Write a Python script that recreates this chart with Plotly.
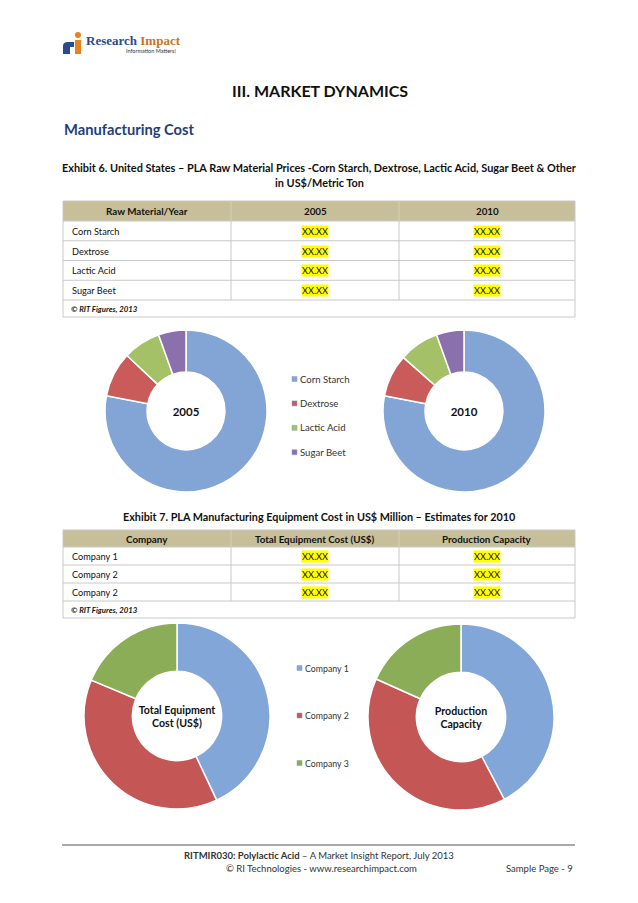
import plotly.graph_objects as go

# page body has an 8px margin: draw in page pixels, shifted by OFF
OFF = 8
W, H = 622, 887
F = "Lato"

# ---------------- data ----------------
materials = ["Corn Starch", "Dextrose", "Lactic Acid", "Sugar Beet"]
table1_header = ["Raw Material/Year", "2005", "2010"]
price_2005 = ["XX.XX", "XX.XX", "XX.XX", "XX.XX"]
price_2010 = ["XX.XX", "XX.XX", "XX.XX", "XX.XX"]
share_2005 = [78.0, 9.0, 7.5, 5.5]
share_2010 = [78.0, 8.5, 8.0, 5.5]
material_colors = ["#82a5d6", "#c95c5a", "#a5c168", "#8a71ad"]

companies_table = ["Company 1", "Company 2", "Company 2"]
table2_header = ["Company", "Total Equipment Cost (US$)", "Production Capacity"]
equip_cost_txt = ["XX.XX", "XX.XX", "XX.XX"]
prod_cap_txt = ["XX.XX", "XX.XX", "XX.XX"]
companies = ["Company 1", "Company 2", "Company 3"]
equip_cost_share = [43.0, 38.3, 18.7]
prod_cap_share = [42.3, 39.4, 18.3]
company_colors = ["#82a6d8", "#c45755", "#8bad57"]

footnote = "© RIT Figures, 2013"


def X(px):
    return (px - OFF) / W


def Y(py):
    return 1 - (py - OFF) / H


fig = go.Figure()
shapes = []
annotations = []


def text(x, y, s, size, color="#111", bold=False, xanchor="center", family=F, bg=None, italic=False):
    if bold:
        s = "<b>" + s + "</b>"
    if italic:
        s = "<i>" + s + "</i>"
    a = dict(x=X(x), y=Y(y), xref="paper", yref="paper", text=s, showarrow=False,
             xanchor=xanchor, yanchor="middle", font=dict(family=family, size=size, color=color))
    if bg:
        a["bgcolor"] = bg
        a["borderpad"] = 0
    annotations.append(a)


def line(x0, y0, x1, y1, color, width=1):
    shapes.append(dict(type="line", xref="paper", yref="paper", x0=X(x0), x1=X(x1), y0=Y(y0), y1=Y(y1),
                       line=dict(color=color, width=width)))


def rect(x0, y0, x1, y1, fill, lcolor=None, lw=0):
    shapes.append(dict(type="rect", xref="paper", yref="paper", x0=X(x0), x1=X(x1), y0=Y(y1), y1=Y(y0),
                       fillcolor=fill, line=dict(color=lcolor or fill, width=lw)))


# ---------------- logo ----------------
shapes.append(dict(type="path", xref="paper", yref="paper",
                   path=f"M {X(63)},{Y(54)} L {X(63)},{Y(46)} Q {X(63)},{Y(42)} {X(68)},{Y(42)} L {X(74)},{Y(42)} L {X(74)},{Y(47)} L {X(70)},{Y(47)} L {X(70)},{Y(54)} Z",
                   fillcolor="#2b4c8c", line=dict(width=0)))
rect(75, 40, 81, 54, "#e8821e")
shapes.append(dict(type="circle", xref="paper", yref="paper", x0=X(75), x1=X(81), y0=Y(38), y1=Y(32),
                   fillcolor="#e8821e", line=dict(width=0)))
annotations.append(dict(x=X(84), y=Y(41), xref="paper", yref="paper", showarrow=False, xanchor="left", yanchor="middle",
                        text="<b><span style='color:#2b4c8c'>Research</span> <span style='color:#c8742a'>Impact</span></b>",
                        font=dict(family="Liberation Serif", size=13)))
text(178, 51, "Information Matters!", 5.5, color="#333", xanchor="right")

# ---------------- titles ----------------
text(320, 90, "III. MARKET DYNAMICS", 16, bold=True)
text(62, 129, "Manufacturing Cost", 14.7, color="#1f3f78", bold=True, xanchor="left")
text(319, 167, "Exhibit 6. United States – PLA Raw Material Prices -Corn Starch, Dextrose, Lactic Acid, Sugar Beet & Other", 10.9, bold=True)
text(319, 183, "in US$/Metric Ton", 10.9, bold=True)
text(319, 516, "Exhibit 7. PLA Manufacturing Equipment Cost in US$ Million – Estimates for 2010", 10.8, bold=True)

# ---------------- tables ----------------
col_edges = [63, 231, 399, 575]
GRID = "#c8c8c8"


def add_table(top, header, col1, col2, col3, head_h, row_h, foot_h):
    n = len(col1)
    body_top = top + head_h
    bottom = body_top + n * row_h
    rect(col_edges[0], top, col_edges[-1], body_top, "#c6bf99")
    for i in range(n + 1):
        line(col_edges[0], body_top + i * row_h, col_edges[-1], body_top + i * row_h, GRID)
    for e in col_edges[1:-1]:
        line(e, top, e, body_top, "#d8d1b6")
        line(e, body_top, e, bottom, GRID)
    rect(col_edges[0], top, col_edges[-1], bottom + foot_h, "rgba(0,0,0,0)", GRID, 1)
    for ci, h in enumerate(header):
        text((col_edges[ci] + col_edges[ci + 1]) / 2, top + head_h / 2 + 0.5, h, 9.8, bold=True)
    for ri in range(n):
        cy = body_top + row_h * (ri + 0.5) + 0.5
        text(col_edges[0] + 7, cy, col1[ri], 9.2, xanchor="left")
        for ci, col in ((1, col2), (2, col3)):
            text((col_edges[ci] + col_edges[ci + 1]) / 2, cy, col[ri], 9.2, bg="#ffff00")
    text(col_edges[0] + 6, bottom + foot_h / 2 + 0.5, footnote, 7.8, bold=True, italic=True, xanchor="left")


add_table(201, table1_header, materials, price_2005, price_2010, 20, 19.75, 17)
add_table(530, table2_header, companies_table, equip_cost_txt, prod_cap_txt, 17, 18, 17)

# ---------------- donuts ----------------


def donut(cx, cy, r, labels, values, colors, title, tsize):
    fig.add_trace(go.Pie(
        labels=labels, values=values, hole=0.48, sort=False, direction="clockwise", rotation=0,
        marker=dict(colors=colors, line=dict(color="white", width=1.5)),
        textinfo="none", hoverinfo="label+percent", showlegend=False,
        domain=dict(x=[X(cx - r), X(cx + r)], y=[Y(cy + r), Y(cy - r)]),
        title=dict(text="<b>" + title + "</b>", position="middle center",
                   font=dict(family=F, size=tsize, color="#111")),
    ))


donut(186, 411, 81, materials, share_2005, material_colors, "2005", 11.5)
donut(464, 411, 81, materials, share_2010, material_colors, "2010", 11.5)
donut(177, 716, 93, companies, equip_cost_share, company_colors, "Total Equipment<br>Cost (US$)", 10.6)
donut(461, 717, 93, companies, prod_cap_share, company_colors, "Production<br>Capacity", 10.6)


def legend(x, y0, dy, labels, colors, size):
    for i, (lab, col) in enumerate(zip(labels, colors)):
        y = y0 + i * dy
        rect(x, y - 2.5, x + 5, y + 2.5, col, "#8aa0c0", 0.5)
        text(x + 5.5, y, lab, size, color="#333", xanchor="left")


legend(292, 379, 24.4, materials, material_colors, 9.6)
legend(297, 668, 47.5, companies, company_colors, 8.8)

# ---------------- footer ----------------
line(62, 845, 575, 845, "#8c8c8c", 1.5)
text(319, 855, "<b>RITMIR030: Polylactic Acid</b> – A Market Insight Report, July 2013", 9.5, color="#333")
text(321, 868, "© RI Technologies - www.researchimpact.com", 9.5, color="#333")
text(575, 868, "Sample Page - 9", 9.5, color="#333", xanchor="right")

fig.update_layout(width=W, height=H, margin=dict(l=0, r=0, t=0, b=0),
                  paper_bgcolor="white", plot_bgcolor="white",
                  shapes=shapes, annotations=annotations, showlegend=False)
fig.write_html("out.html")
